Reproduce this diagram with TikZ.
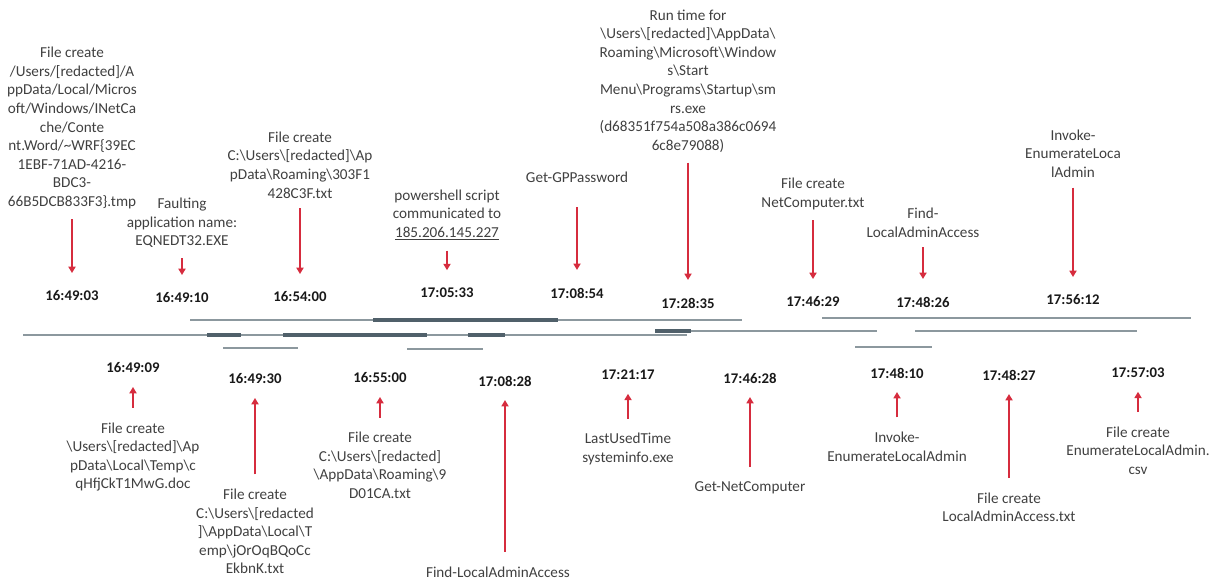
\documentclass[tikz,border=0pt]{standalone}
\usepackage{fontspec}
\setmainfont{Carlito}
\usetikzlibrary{arrows.meta}

\newcommand{\bksl}{\textbackslash}

\definecolor{linelight}{RGB}{140,152,158}
\definecolor{linedark}{RGB}{80,96,106}
\definecolor{arrowred}{RGB}{214,44,62}

\tikzset{
  note/.style = {align=center, inner sep=0pt, text=black!75, font=\fontsize{10.8}{13.2}\selectfont},
  stamp/.style = {inner sep=0pt, text=black!90, font=\fontsize{10.5}{12}\selectfont\bfseries},
  fallarrow/.style = {arrowred, line width=1.4pt, -{Triangle[width=5pt,length=4.5pt]}, shorten <=0.25cm, shorten >=0.44cm},
  risearrow/.style = {arrowred, line width=1.4pt, -{Triangle[width=5pt,length=4.5pt]}, shorten <=0.36cm, shorten >=0.34cm},
  tline/.style = {linelight, line width=2pt},
  tlinedark/.style = {linedark, line width=2.2pt}
}

\begin{document}
\begin{tikzpicture}
\useasboundingbox (0,0) rectangle (30.425,14.575);

% timeline bars
\draw[tline] (4.75,6.575) -- (18.55,6.575);
\draw[tlinedark] (9.325,6.575) -- (13.95,6.575);
\draw[tline] (0.575,6.2) -- (17.175,6.2);
\draw[tlinedark] (5.175,6.2) -- (6.025,6.2);
\draw[tlinedark] (7.075,6.2) -- (10.675,6.2);
\draw[tlinedark] (11.70,6.2) -- (12.625,6.2);
\draw[tline] (16.375,6.3) -- (21.925,6.3);
\draw[tlinedark] (16.375,6.3) -- (17.275,6.3);
\draw[tline] (20.55,6.625) -- (29.775,6.625);
\draw[tline] (22.875,6.3) -- (28.425,6.3);
\draw[tline] (5.575,5.875) -- (7.45,5.875);
\draw[tline] (10.175,5.85) -- (12.075,5.85);
\draw[tline] (21.375,5.9) -- (23.30,5.9);

% events above the line
\node[stamp] (s1) at (1.80,7.175) {16:49:03};
\node[note] (n1) at (1.80,11.375) {File create\\/Users/[redacted]/A\\ppData/Local/Micros\\oft/Windows/INetCa\\che/Conte\\nt.Word/\textasciitilde WRF\{39EC\\1EBF-71AD-4216-\\BDC3-\\66B5DCB833F3\}.tmp};
\draw[fallarrow] (n1) -- (s1);

\node[stamp] (s2) at (4.55,7.125) {16:49:10};
\node[note] (n2) at (4.55,9.0) {Faulting\\application name:\\EQNEDT32.EXE};
\draw[fallarrow] (n2) -- (s2);

\node[stamp] (s3) at (7.50,7.15) {16:54:00};
\node[note] (n3) at (7.50,10.45) {File create\\C:\bksl{}Users\bksl{}[redacted]\bksl{}Ap\\pData\bksl{}Roaming\bksl{}303F1\\428C3F.txt};
\draw[fallarrow] (n3) -- (s3);

\node[stamp] (s4) at (11.175,7.25) {17:05:33};
\node[note] (n4) at (11.175,9.2) {powershell script\\communicated to\\\underline{185.206.145.227}};
\draw[fallarrow] (n4) -- (s4);

\node[stamp] (s5) at (14.425,7.25) {17:08:54};
\node[note] (n5) at (14.425,10.15) {Get-GPPassword};
\draw[fallarrow, shorten <=0.62cm] (n5) -- (s5);

\node[stamp] (s6) at (17.20,7.0) {17:28:35};
\node[note] (n6) at (17.20,12.55) {Run time for\\\bksl{}Users\bksl{}[redacted]\bksl{}AppData\bksl{}\\Roaming\bksl{}Microsoft\bksl{}Window\\s\bksl{}Start\\Menu\bksl{}Programs\bksl{}Startup\bksl{}sm\\rs.exe\\(d68351f754a508a386c0694\\6c8e79088)};
\draw[fallarrow] (n6) -- (s6);

\node[stamp] (s7) at (20.325,7.025) {17:46:29};
\node[note] (n7) at (20.325,9.725) {File create\\NetComputer.txt};
\draw[fallarrow] (n7) -- (s7);

\node[stamp] (s8) at (23.075,7.025) {17:48:26};
\node[note] (n8) at (23.075,9.01) {Find-\\LocalAdminAccess};
\draw[fallarrow] (n8) -- (s8);

\node[stamp] (s9) at (26.825,7.075) {17:56:12};
\node[note] (n9) at (26.825,10.74) {Invoke-\\EnumerateLoca\\lAdmin};
\draw[fallarrow] (n9) -- (s9);

% events below the line
\node[stamp] (s10) at (3.325,5.375) {16:49:09};
\node[note] (n10) at (3.325,3.15) {File create\\\bksl{}Users\bksl{}[redacted]\bksl{}Ap\\pData\bksl{}Local\bksl{}Temp\bksl{}c\\qHfjCkT1MwG.doc};
\draw[risearrow] (n10) -- (s10);

\node[stamp] (s11) at (6.375,5.10) {16:49:30};
\node[note] (n11) at (6.375,1.29) {File create\\C:\bksl{}Users\bksl{}[redacted\\]\bksl{}AppData\bksl{}Local\bksl{}T\\emp\bksl{}jOrOqBQoCc\\EkbnK.txt};
\draw[risearrow] (n11) -- (s11);

\node[stamp] (s12) at (9.50,5.125) {16:55:00};
\node[note] (n12) at (9.50,2.94) {File create\\C:\bksl{}Users\bksl{}[redacted]\\\bksl{}AppData\bksl{}Roaming\bksl{}9\\D01CA.txt};
\draw[risearrow] (n12) -- (s12);

\node[stamp] (s13) at (12.625,5.05) {17:08:28};
\node[note] (n13) at (12.45,0.275) {Find-LocalAdminAccess};
\draw[risearrow] (n13.north -| s13) -- (s13);

\node[stamp] (s14) at (15.70,5.20) {17:21:17};
\node[note] (n14) at (15.70,3.35) {LastUsedTime\\systeminfo.exe};
\draw[risearrow] (n14) -- (s14);

\node[stamp] (s15) at (18.75,5.125) {17:46:28};
\node[note] (n15) at (18.75,2.375) {Get-NetComputer};
\draw[risearrow] (n15) -- (s15);

\node[stamp] (s16) at (22.425,5.25) {17:48:10};
\node[note] (n16) at (22.425,3.41) {Invoke-\\EnumerateLocalAdmin};
\draw[risearrow] (n16) -- (s16);

\node[stamp] (s17) at (25.225,5.20) {17:48:27};
\node[note] (n17) at (25.225,1.89) {File create\\LocalAdminAccess.txt};
\draw[risearrow] (n17) -- (s17);

\node[stamp] (s18) at (28.45,5.25) {17:57:03};
\node[note] (n18) at (28.45,3.31) {File create\\EnumerateLocalAdmin.\\csv};
\draw[risearrow] (n18) -- (s18);

\end{tikzpicture}
\end{document}
